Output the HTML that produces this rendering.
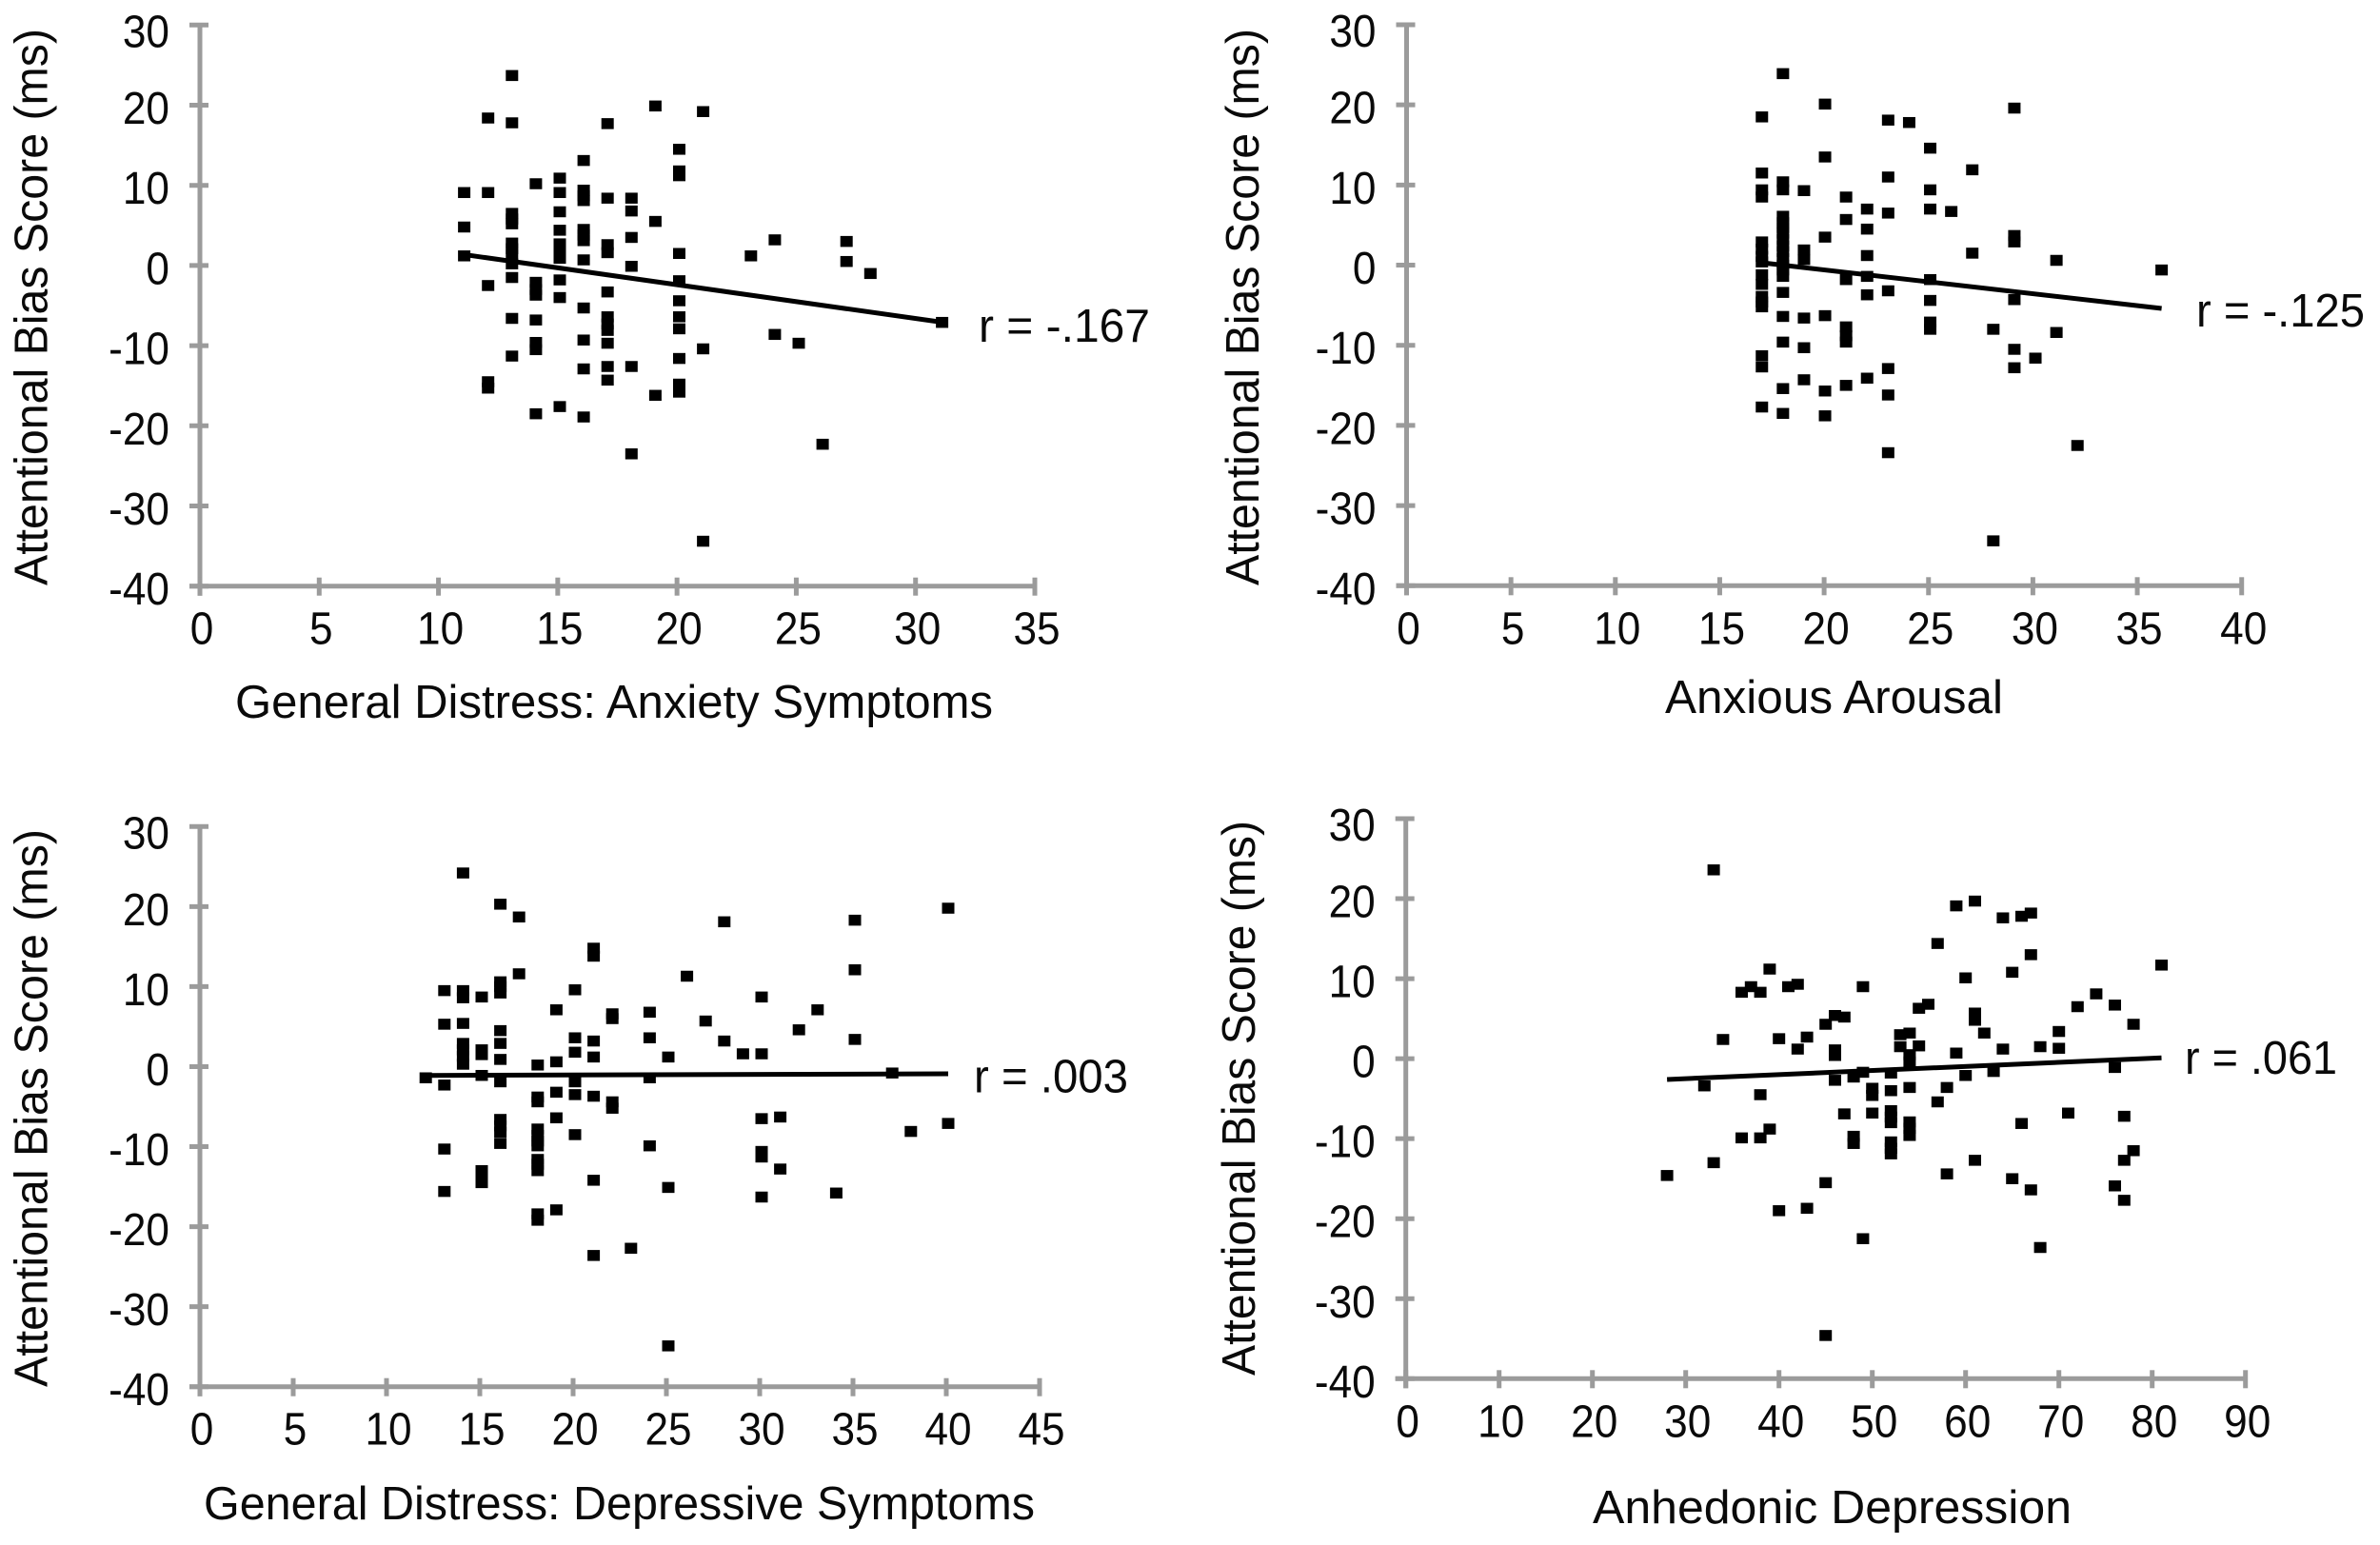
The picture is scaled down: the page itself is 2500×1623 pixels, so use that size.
<!DOCTYPE html>
<html lang="en">
<head>
<meta charset="utf-8">
<title>Attentional Bias Score scatter plots</title>
<style>
html,body{margin:0;padding:0;background:#fff;}
svg{display:block;}
text{font-family:"Liberation Sans",sans-serif;fill:#0a0a0a;}
</style>
</head>
<body>
<svg id="figure" xmlns="http://www.w3.org/2000/svg" width="2500" height="1623" viewBox="0 0 2500 1623"></svg>
<script>
const yTickLabels = [30,20,10,0,-10,-20,-30,-40];

const anxietyTicks = [0,5,10,15,20,25,30,35];
const anxietyX = [11,12,13,14,15,16,17,18,19,20,21,23,24,25,26,27,28,31];
const anxietyY = [
 [9.1,4.8,1.2],
 [18.4,9.1,-2.5,-14.5,-15.3],
 [23.7,17.8,6.5,5.8,5.2,2.8,2.1,1.4,0.2,-1.5,-6.6,-11.3],
 [10.2,-2.1,-3,-3.7,-6.8,-9.6,-10.5,-18.5],
 [10.9,9.1,6.7,4.4,2.7,1.9,0.9,-1.8,-4,-17.6],
 [13.1,9.4,8.7,8.1,4.5,3.8,3.1,0.7,-5.3,-9.3,-12.9,-18.9],
 [17.7,8.4,2.6,1.6,-3.3,-6.4,-7.3,-8.1,-9.7,-12.6,-14.3],
 [8.4,6.8,3.5,-0.1,-12.6,-23.5],
 [19.9,5.5,-16.2],
 [14.5,11.8,11.2,1.5,-1.9,-4.4,-6.4,-7.9,-11.6,-14.8,-15.8],
 [19.2,-10.4,-34.4],
 [1.2],
 [3.2,-8.6],
 [-9.7],
 [-22.3],
 [3,0.5],
 [-1],
 [-7.1]
];
const anxietyTrendX = [11,31];
const anxietyTrendY = [1.36,-7.08];

const arousalTicks = [0,5,10,15,20,25,30,35,40];
const arousalX = [17,18,19,20,21,22,23,24,25,26,27,28,29,30,31,32,36];
const arousalY = [
 [18.5,11.5,9.4,8.5,2.9,2,1.1,0.4,-1.2,-2.4,-3.9,-4.6,-5.2,-11.3,-12.7,-17.7],
 [23.9,10.4,9.4,6.1,5.3,4.7,4,3.2,2.4,1.7,0.8,0,-0.6,-1.4,-3.4,-6.4,-9.6,-15.4,-18.5],
 [9.3,1.9,0.7,-6.6,-10.3,-14.3],
 [20.1,13.5,3.5,-6.3,-15.7,-18.8],
 [8.5,5.7,-1.8,-7.7,-8.8,-9.6,-15],
 [7,4.5,1.2,-1.4,-3.7,-14.1],
 [18.1,11,6.5,-3.2,-12.9,-16.2,-23.4],
 [17.8],
 [14.6,9.4,7,-1.8,-4.4,-7.1,-8],
 [6.7],
 [11.9,1.5],
 [-8,-34.4],
 [19.6,3.7,2.9,-4.3,-10.5,-12.8],
 [-11.6],
 [0.6,-8.4],
 [-22.5],
 [-0.6]
];
const arousalTrendX = [17,36];
const arousalTrendY = [0.3,-5.4];

const depressiveTicks = [0,5,10,15,20,25,30,35,40,45];
const depressiveX = [12,13,14,15,16,17,18,19,20,21,22,23,24,25,26,27,28,29,30,31,32,33,34,35,37,38,40];
const depressiveY = [
 [-1.4],
 [9.5,5.3,-2.3,-10.3,-15.6],
 [24.2,9.5,8.6,5.4,2.9,2.1,1.3,0.3],
 [8.7,2.1,1.5,-1.1,-13,-13.7,-14.5],
 [20.3,10.6,10,9.2,4.5,2.9,0.9,-1.9,-6.6,-7.4,-8.2,-9.6],
 [18.7,11.6],
 [0.2,-3.8,-4.4,-7.8,-8.6,-9.3,-9.9,-11.6,-12.2,-13,-18.4,-19.2],
 [7.1,0.6,-3.2,-6.4,-17.9],
 [9.6,3.6,1.8,-1.9,-3.5,-8.5],
 [14.8,13.8,3.2,1.2,-3.7,-14.2,-23.6],
 [6.6,6,-4.4,-5.2],
 [-22.7],
 [6.8,3.6,-1.4,-9.9],
 [1.2,-15.1,-34.9],
 [11.3],
 [5.7],
 [18.1,3.2],
 [1.6],
 [8.7,1.6,-6.5,-10.6,-11.3,-16.3],
 [-6.3,-12.8],
 [4.6],
 [7.1],
 [-15.8],
 [18.3,12.1,3.4],
 [-0.8],
 [-8.1],
 [19.8,-7.1]
];
const depressiveTrendX = [12,40];
const depressiveTrendY = [-1.1,-0.9];

const anhedonicTicks = [0,10,20,30,40,50,60,70,80,90];
const anhedonicX = [28,32,33,34,36,37,38,39,40,41,42,43,45,46,47,48,49,50,52,53,54,55,56,57,58,59,60,61,62,63,64,65,66,67,68,70,71,72,74,76,77,78,81];
const anhedonicY = [
 [-14.6],
 [-3.4],
 [23.6,-13],
 [2.4],
 [8.3,-9.9],
 [9],
 [8.3,-4.5,-9.9],
 [11.2,-8.8],
 [2.5,-19],
 [9],
 [9.3,1.2],
 [2.7,-18.7],
 [4.3,-15.5,-34.6],
 [5.4,1.1,0.4,-2.7],
 [5.2,-6.9],
 [-2.3,-9.7,-10.6],
 [9,-1.7,-22.5],
 [-3.7,-4.6,-6.8],
 [-1.8,-4,-6.5,-7.3,-8,-10.4,-11.2,-11.9],
 [3,1.5],
 [3.2,0.5,-0.4,-3.6,-7.9,-8.7,-9.6],
 [6.3,1.6],
 [6.8],
 [14.4,-5.4],
 [-3.6,-14.4],
 [19.1,0.7],
 [10.1,-2.1],
 [19.7,5.7,4.8,-12.7],
 [3.2],
 [-1.6],
 [17.6,1.2],
 [10.8,-15],
 [17.8,-8.1],
 [18.2,13,-16.4],
 [1.5,-23.6],
 [3.4,1.3],
 [-6.8],
 [6.5],
 [8.1],
 [6.7,-1.1,-15.9],
 [-7.2,-12.7,-17.7],
 [4.3,-11.5],
 [11.7]
];
const anhedonicTrendX = [28,81];
const anhedonicTrendY = [-2.6,0.1];

const SVG_NS = 'http://www.w3.org/2000/svg';
const figure = document.getElementById('figure');
const AXIS_COLOR = '#9b9b9b';
const TICK_FONT = 48;
const TITLE_FONT = 49;

function make(tag, parent, attrs) {
  const el = document.createElementNS(SVG_NS, tag);
  for (const key in attrs) el.setAttribute(key, attrs[key]);
  parent.appendChild(el);
  return el;
}

function drawPanel(cfg) {
  const g = make('g', figure, {});
  
  

  const xMax = cfg.xTicks[cfg.xTicks.length - 1];
  const xScale = v => cfg.x0 + (v / xMax) * (cfg.x1 - cfg.x0);
  const markX = v => cfg.mx0 + (v / xMax) * (cfg.mx1 - cfg.mx0);
  const yScale = v => cfg.yTop + ((30 - v) / 70) * (cfg.yBottom - cfg.yTop);

  const yAxis = make('line', g, {x1: xScale(0), x2: xScale(0), y1: yScale(30), y2: yScale(-40) + 10, stroke: AXIS_COLOR, 'stroke-width': 5});
  
  

  const xAxis = make('line', g, {x1: xScale(0) - 11, x2: xScale(xMax), y1: yScale(-40), y2: yScale(-40), stroke: AXIS_COLOR, 'stroke-width': 5});
  
  

  yTickLabels.forEach(v => {
    const tick = make('line', g, {x1: xScale(0) - 11, x2: xScale(0) + 9, y1: yScale(v), y2: yScale(v), stroke: AXIS_COLOR, 'stroke-width': 5});
    
    
    const drop = v === 30 ? 23 : 19.5;
    const label = make('text', g, {transform: 'translate(' + (xScale(0) - 32) + ',' + (yScale(v) + drop) + ') scale(0.92,1)', 'text-anchor': 'end', 'font-size': TICK_FONT});
    
    
    label.textContent = String(v);
  });

  cfg.xTicks.forEach(v => {
    const tick = make('line', g, {x1: xScale(v), x2: xScale(v), y1: yScale(-40) - 9, y2: yScale(-40) + 10, stroke: AXIS_COLOR, 'stroke-width': 5});
    
    
    const label = make('text', g, {transform: 'translate(' + (xScale(v) + 2) + ',' + (yScale(-40) + 61) + ') scale(0.92,1)', 'text-anchor': 'middle', 'font-size': TICK_FONT});
    
    
    label.textContent = String(v);
  });

  cfg.xs.forEach((xv, i) => {
    cfg.ys[i].forEach(yv => {
      const pt = make('rect', g, {x: markX(xv) - 6.5, y: yScale(yv) - 5.75, width: 13, height: 11.5, fill: '#000'});
      
      
    });
  });

  const trend = make('line', g, {x1: markX(cfg.trendX[0]), y1: yScale(cfg.trendY[0]), x2: markX(cfg.trendX[1]), y2: yScale(cfg.trendY[1]), stroke: '#000', 'stroke-width': 5});
  
  

  const rLabel = make('text', g, {x: cfg.rX, y: cfg.rY, 'font-size': TITLE_FONT, textLength: cfg.rW, lengthAdjust: 'spacingAndGlyphs'});
  
  
  rLabel.textContent = cfg.rText;

  const xTitle = make('text', g, {x: cfg.xtX, y: cfg.xtY, 'font-size': TITLE_FONT, textLength: cfg.xtW, lengthAdjust: 'spacingAndGlyphs'});
  
  
  xTitle.textContent = cfg.xTitle;

  const yTitle = make('text', g, {transform: 'translate(' + cfg.ytX + ',' + cfg.ytBottom + ') rotate(-90)', x: 0, y: 0, 'font-size': TITLE_FONT, textLength: cfg.ytW, lengthAdjust: 'spacingAndGlyphs'});
  
  
  yTitle.textContent = 'Attentional Bias Score (ms)';
}

drawPanel({name: 'anxiety-symptoms', xTicks: anxietyTicks, xs: anxietyX, ys: anxietyY, trendX: anxietyTrendX, trendY: anxietyTrendY,
  x0: 210, x1: 1087, mx0: 211.5, mx1: 1090, yTop: 26.3, yBottom: 615.7,
  rText: 'r = -.167', rX: 1028, rY: 359, rW: 180,
  xTitle: 'General Distress: Anxiety Symptoms', xtX: 247, xtY: 754, xtW: 796,
  ytX: 49.5, ytBottom: 615, ytW: 585});

drawPanel({name: 'anxious-arousal', xTicks: arousalTicks, xs: arousalX, ys: arousalY, trendX: arousalTrendX, trendY: arousalTrendY,
  x0: 1477.5, x1: 2354.7, mx0: 1475.1, mx1: 2359, yTop: 26, yBottom: 615.3,
  rText: 'r = -.125', rX: 2307, rY: 343, rW: 177,
  xTitle: 'Anxious Arousal', xtX: 1749, xtY: 749, xtW: 355,
  ytX: 1322, ytBottom: 615, ytW: 585});

drawPanel({name: 'depressive-symptoms', xTicks: depressiveTicks, xs: depressiveX, ys: depressiveY, trendX: depressiveTrendX, trendY: depressiveTrendY,
  x0: 210, x1: 1092, mx0: 212, mx1: 1094, yTop: 868.3, yBottom: 1456.7,
  rText: 'r = .003', rX: 1023, rY: 1147.5, rW: 162,
  xTitle: 'General Distress: Depressive Symptoms', xtX: 214, xtY: 1596, xtW: 873,
  ytX: 49.5, ytBottom: 1457, ytW: 586});

drawPanel({name: 'anhedonic-depression', xTicks: anhedonicTicks, xs: anhedonicX, ys: anhedonicY, trendX: anhedonicTrendX, trendY: anhedonicTrendY,
  x0: 1476.7, x1: 2358.7, mx0: 1476.7, mx1: 2358.7, yTop: 860, yBottom: 1448.3,
  rText: 'r = .061', rX: 2295, rY: 1128, rW: 160,
  xTitle: 'Anhedonic Depression', xtX: 1673, xtY: 1600, xtW: 503,
  ytX: 1318, ytBottom: 1445, ytW: 583});
</script>
</body>
</html>
